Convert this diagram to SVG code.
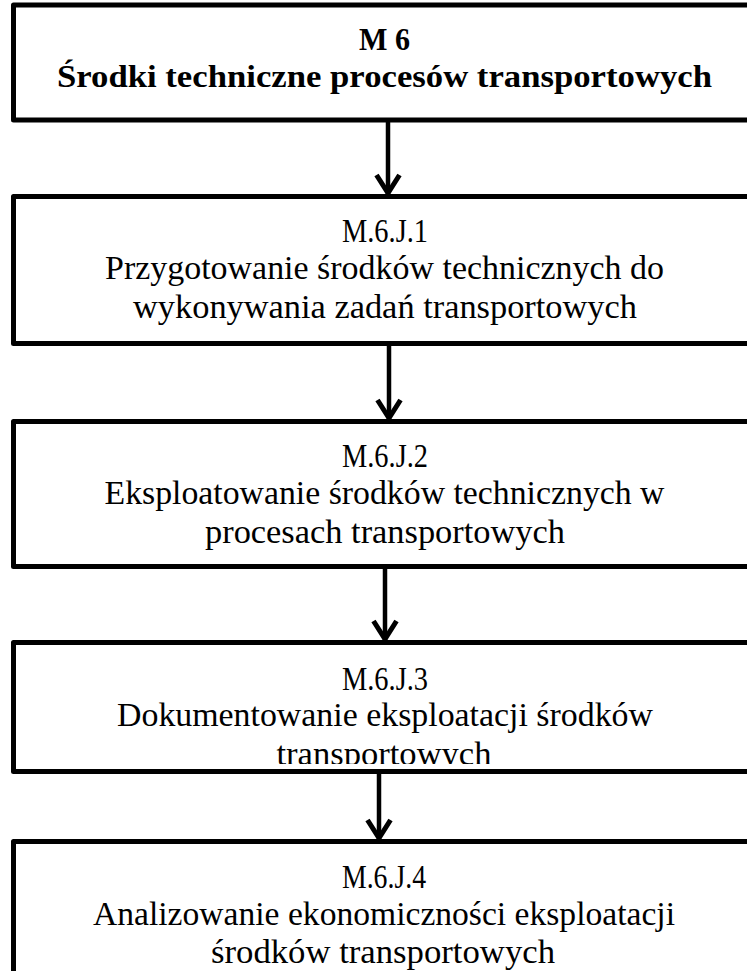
<svg xmlns="http://www.w3.org/2000/svg" width="747" height="971" viewBox="0 0 747 971">
  <style>
    .box { fill: #ffffff; stroke: #000000; stroke-width: 5; stroke-linejoin: round; }
    .t { font-family: "Liberation Serif", "Times New Roman", serif; font-size: 33px; fill: #000000; text-anchor: middle; }
    .tb { font-family: "Liberation Serif", "Times New Roman", serif; font-size: 31px; font-weight: bold; fill: #000000; text-anchor: middle; }
    .conn { stroke: #000000; stroke-width: 4.5; fill: none; }
  </style>
  <defs>
    <marker id="arrow" markerUnits="userSpaceOnUse" viewBox="-30 -20 40 40" refX="0" refY="0" markerWidth="40" markerHeight="40" orient="auto" overflow="visible">
      <path d="M -19 -11.5 L -1 0 L -19 11.5" fill="none" stroke="#000000" stroke-width="5" stroke-linejoin="miter" stroke-linecap="butt"/>
    </marker>
    <clipPath id="clip4">
      <rect x="16" y="645" width="740" height="119"/>
    </clipPath>
  </defs>
  <rect width="747" height="971" fill="#ffffff"/>

  <g id="connectors">
    <line class="conn" x1="388" y1="122" x2="388" y2="194" marker-end="url(#arrow)"/>
    <line class="conn" x1="389" y1="346" x2="389" y2="419" marker-end="url(#arrow)"/>
    <line class="conn" x1="385" y1="569" x2="385" y2="640" marker-end="url(#arrow)"/>
    <line class="conn" x1="379" y1="774" x2="379" y2="839" marker-end="url(#arrow)"/>
  </g>

  <g id="m6">
    <rect class="box" x="13.5" y="5" width="760" height="115"/>
    <text class="tb" x="384.5" y="50" textLength="51" lengthAdjust="spacingAndGlyphs">M 6</text>
    <text class="tb" x="384.5" y="87" textLength="655" lengthAdjust="spacingAndGlyphs">Środki techniczne procesów transportowych</text>
  </g>

  <g id="m6j1">
    <rect class="box" x="13.5" y="196.5" width="760" height="147"/>
    <text class="t" x="385" y="242" textLength="86" lengthAdjust="spacingAndGlyphs">M.6.J.1</text>
    <text class="t" x="384.5" y="279" textLength="559" lengthAdjust="spacingAndGlyphs">Przygotowanie środków technicznych do</text>
    <text class="t" x="385" y="318" textLength="504" lengthAdjust="spacingAndGlyphs">wykonywania zadań transportowych</text>
  </g>

  <g id="m6j2">
    <rect class="box" x="13.5" y="421.5" width="760" height="145"/>
    <text class="t" x="385" y="467" textLength="86" lengthAdjust="spacingAndGlyphs">M.6.J.2</text>
    <text class="t" x="384.5" y="504" textLength="560" lengthAdjust="spacingAndGlyphs">Eksploatowanie środków technicznych w</text>
    <text class="t" x="385" y="543" textLength="360" lengthAdjust="spacingAndGlyphs">procesach transportowych</text>
  </g>

  <g id="m6j3">
    <rect class="box" x="13.5" y="642.5" width="760" height="129"/>
    <g clip-path="url(#clip4)">
      <text class="t" x="385" y="690" textLength="86" lengthAdjust="spacingAndGlyphs">M.6.J.3</text>
      <text class="t" x="385" y="726" textLength="536" lengthAdjust="spacingAndGlyphs">Dokumentowanie eksploatacji środków</text>
      <text class="t" x="384" y="765" textLength="215" lengthAdjust="spacingAndGlyphs">transportowych</text>
    </g>
  </g>

  <g id="m6j4">
    <rect class="box" x="13.5" y="841.5" width="760" height="200"/>
    <text class="t" x="384" y="888" textLength="84" lengthAdjust="spacingAndGlyphs">M.6.J.4</text>
    <text class="t" x="384" y="925" textLength="582" lengthAdjust="spacingAndGlyphs">Analizowanie ekonomiczności eksploatacji</text>
    <text class="t" x="383" y="963" textLength="344" lengthAdjust="spacingAndGlyphs">środków transportowych</text>
  </g>
</svg>
